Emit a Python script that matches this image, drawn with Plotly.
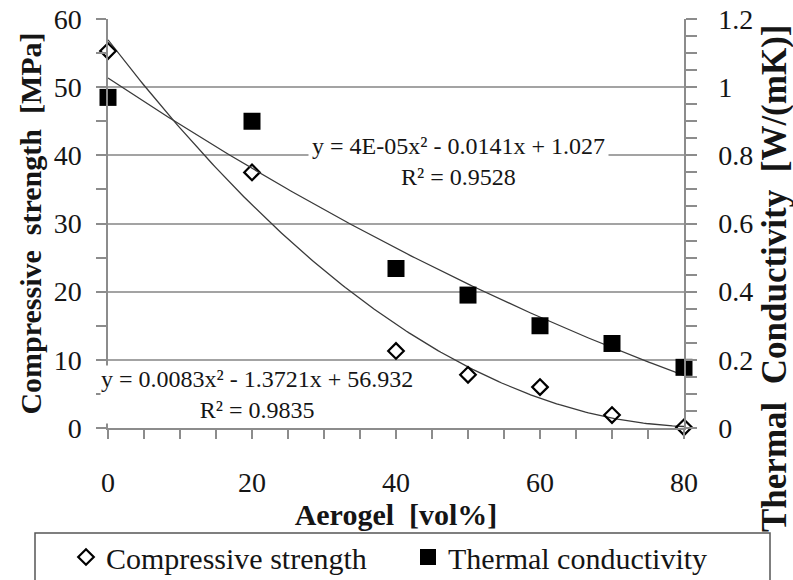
import numpy as np
import plotly.graph_objects as go

# ---- data ----
aerogel = [0, 20, 40, 50, 60, 70, 80]
compressive_strength = [55.3, 37.5, 11.3, 7.8, 6.0, 1.9, 0.1]
thermal_conductivity = [0.97, 0.90, 0.468, 0.39, 0.30, 0.248, 0.178]

strength_eq = "y = 0.0083x² - 1.3721x + 56.932<br>R² = 0.9835"
conduct_eq = "y = 4E-05x² - 0.0141x + 1.027<br>R² = 0.9528"

x_ticks = [0, 20, 40, 60, 80]

FONT = '"Liberation Serif", "Times New Roman", Times, serif'
GRID = "#a3a3a3"
LINE = "#8c8c8c"
TXT = "#151515"

# polynomial (order 2) trendlines computed from the data, as the spreadsheet does
xs = np.linspace(min(aerogel), max(aerogel), 200)
cs_fit = np.polyval(np.polyfit(aerogel, compressive_strength, 2), xs)
tc_fit = np.polyval(np.polyfit(aerogel, thermal_conductivity, 2), xs)

fig = go.Figure()
fig.add_trace(go.Scatter(x=xs, y=cs_fit, mode="lines", line=dict(color="#3a3a3a", width=1.3),
                         showlegend=False, hoverinfo="skip"))
fig.add_trace(go.Scatter(x=xs, y=tc_fit, mode="lines", line=dict(color="#3a3a3a", width=1.3),
                         showlegend=False, hoverinfo="skip", yaxis="y2"))
fig.add_trace(go.Scatter(x=aerogel, y=compressive_strength, mode="markers", name="Compressive strength",
                         marker=dict(symbol="diamond-open", size=12, color="black", line=dict(width=2.2, color="black")),
                         cliponaxis=False))
fig.add_trace(go.Scatter(x=aerogel, y=thermal_conductivity, mode="markers", name="Thermal conductivity",
                         marker=dict(symbol="square", size=17, color="black"), cliponaxis=False, yaxis="y2"))

L, R, T, B = 108, 684, 19, 428
W, H = 793, 580
pw, ph = R - L, B - T

def px(x):
    return (x - L) / pw

def py(y):
    return (B - y) / ph

fig.update_layout(
    width=W, height=H,
    margin=dict(l=L, r=W - R, t=T, b=H - B, pad=0, autoexpand=False),
    paper_bgcolor="white", plot_bgcolor="white",
    font=dict(family=FONT, color=TXT, size=26),
    showlegend=True,
    legend=dict(orientation="h", x=px(66), xanchor="left", y=py(557), yanchor="middle",
                font=dict(size=30, family=FONT, color=TXT), bgcolor="rgba(0,0,0,0)",
                borderwidth=0, entrywidth=297, entrywidthmode="pixels", itemwidth=30),
    xaxis=dict(range=[0, 80], tickvals=x_ticks, showgrid=False, zeroline=False, automargin=True,
               showline=True, linecolor=LINE, linewidth=1.5,
               ticks="outside", ticklen=9, tickcolor=LINE, tickwidth=1.5, ticklabelstandoff=20,
               minor=dict(dtick=5, ticks="outside", ticklen=9, tickcolor=LINE, tickwidth=1.5, showgrid=False),
               tickfont=dict(size=28, family=FONT, color=TXT),
               title=dict(text="<b>Aerogel  [vol%]</b>", font=dict(size=30, family=FONT, color=TXT), standoff=0)),
    yaxis=dict(range=[0, 60], dtick=10, showgrid=True, gridcolor=GRID, gridwidth=1.5, zeroline=False, automargin=True,
               showline=True, linecolor=LINE, linewidth=1.5,
               ticks="outside", ticklen=10, tickcolor=LINE, tickwidth=1.5, ticklabelstandoff=9,
               minor=dict(dtick=5, ticks="outside", ticklen=10, tickcolor=LINE, tickwidth=1.5, showgrid=False),
               tickfont=dict(size=28, family=FONT, color=TXT),
               title=dict(text="<b>Compressive  strength  [MPa]</b>", font=dict(size=30, family=FONT, color=TXT), standoff=3)),
    yaxis2=dict(range=[0, 1.2], dtick=0.2, overlaying="y", side="right", showgrid=False, zeroline=False, automargin=True,
                showline=True, linecolor=LINE, linewidth=1.5,
                ticks="outside", ticklen=11, tickcolor=LINE, tickwidth=1.5, ticklabelstandoff=16,
                minor=dict(dtick=0.05, ticks="outside", ticklen=11, tickcolor=LINE, tickwidth=1.5, showgrid=False),
                tickfont=dict(size=28, family=FONT, color=TXT)),
    annotations=[
        dict(text="<b>Thermal  Conductivity  [W/(mK)]</b>", xref="paper", yref="paper", x=px(774), y=py(279),
             xanchor="center", yanchor="middle", textangle=-90, showarrow=False,
             font=dict(size=35, family=FONT, color=TXT)),
        dict(text=conduct_eq, xref="paper", yref="paper", x=px(458), y=py(161), xanchor="center", yanchor="middle",
             showarrow=False, font=dict(size=24, family=FONT, color=TXT), bgcolor="white", borderpad=3, align="center"),
        dict(text=strength_eq, xref="paper", yref="paper", x=px(257), y=py(394.5), xanchor="center", yanchor="middle",
             showarrow=False, font=dict(size=24, family=FONT, color=TXT), bgcolor="white", borderpad=0, align="center"),
    ],
    shapes=[
        dict(type="rect", xref="paper", yref="paper", x0=px(35), x1=px(770), y0=py(590), y1=py(533),
             line=dict(color="#555555", width=1.5), fillcolor="rgba(0,0,0,0)", layer="below"),
    ],
)

# the page's default body margin would shift the 793x580 figure by 8 px; remove it
fig.write_html("out.html", config={"displayModeBar": False},
               post_script="document.body.style.margin='0';document.body.style.overflow='hidden';")
